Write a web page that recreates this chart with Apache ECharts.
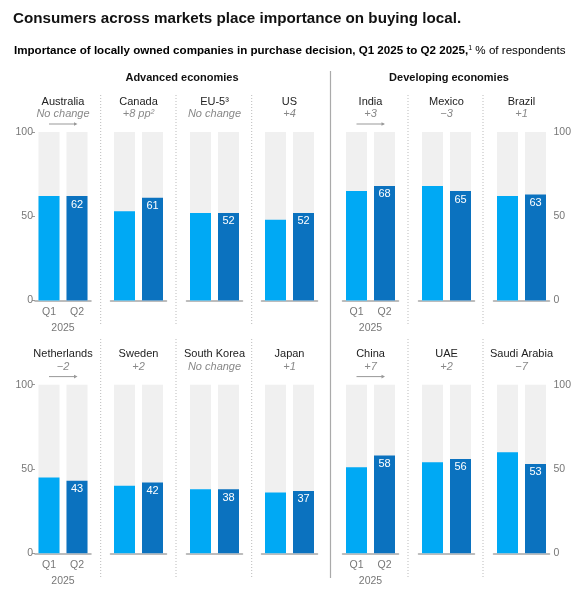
<!DOCTYPE html>
<html>
<head>
<meta charset="utf-8">
<script src="https://cdn.jsdelivr.net/npm/echarts@6/dist/echarts.min.js"></script>
<style>
html,body{margin:0;padding:0;background:#fff;}
#chart{width:582px;height:590px;}
</style>
</head>
<body>
<div id="chart"></div>
<script>
// ---- Data ----
const countries = ['Australia','Canada','EU-5\u00B3','US','India','Mexico','Brazil',
                   'Netherlands','Sweden','South Korea','Japan','China','UAE','Saudi Arabia'];
const changeLabels = ['No change','+8 pp\u00B2','No change','+4','+3','\u22123','+1',
                      '\u22122','+2','No change','+1','+7','+2','\u22127'];
const q1Values = [62,53,52,48,65,68,62,45,40,38,36,51,54,60];
const q2Values = [62,61,52,52,68,65,63,43,42,38,37,58,56,53];
const periods = ['Q1','Q2'];
const yearLabel = '2025';
const groupLabels = ['Advanced economies','Developing economies'];

// ---- Layout ----
const FONT = '"Liberation Sans", Arial, sans-serif';
const colQ1 = '#00a9f4', colQ2 = '#0b72bf';
const colCenters = [63,138.5,214.5,289.5,370.5,446.5,521.5];
const rowTop = [132,384.7];
const plotH = 168.6;
const halfW = 28;

const grids=[], xAxes=[], yAxes=[], series=[], graphics=[];
countries.forEach((name,i)=>{
  const row = i<7?0:1, col = i%7;
  const cx = colCenters[col];
  const firstPanel = (col===0 || col===4);
  const leftAxis = col===0, rightAxis = col===6;
  grids.push({left:cx-halfW, top:rowTop[row], width:halfW*2, height:plotH});
  xAxes.push({
    type:'category', gridIndex:i, data:periods,
    axisLine:{show:true,lineStyle:{color:'#a6a6a6',width:1.5}},
    axisTick:{show:false},
    axisLabel:{show:firstPanel,color:'#777',fontSize:10.5,fontFamily:FONT,margin:6},
    name: firstPanel?yearLabel:'', nameLocation:'middle', nameGap:22,
    nameTextStyle:{color:'#777',fontSize:10.5,fontFamily:FONT}
  });
  yAxes.push({
    type:'value', gridIndex:i, min:0, max:100, interval:50,
    position: rightAxis?'right':'left',
    splitLine:{show:false}, axisLine:{show:false},
    axisTick:{show:leftAxis,length:3,lineStyle:{color:'#999'}},
    axisLabel:{show:leftAxis||rightAxis,color:'#777',fontSize:10.5,fontFamily:FONT,margin:rightAxis?4:2}
  });
  series.push({
    type:'bar', xAxisIndex:i, yAxisIndex:i, barWidth:21,
    showBackground:true, backgroundStyle:{color:'#f0f0f0'},
    data:[
      {value:q1Values[i], itemStyle:{color:colQ1}, label:{show:false}},
      {value:q2Values[i], itemStyle:{color:colQ2},
       label:{show:true,position:'insideTop',distance:3,color:'#fff',fontSize:11,fontFamily:FONT}}
    ]
  });
  const nameY = row===0?101.7:354.3;
  graphics.push({type:'text',x:cx,y:nameY,style:{text:name,textAlign:'center',textVerticalAlign:'middle',
    fill:'#222',font:'11px '+FONT}});
  graphics.push({type:'text',x:cx,y:nameY+12.3,style:{text:changeLabels[i],textAlign:'center',textVerticalAlign:'middle',
    fill:'#888',font:'italic 11px '+FONT}});
  if(firstPanel){
    const ay = nameY+22.3;
    graphics.push({type:'line',shape:{x1:cx-14,y1:ay,x2:cx+13,y2:ay},style:{stroke:'#999',lineWidth:1}});
    graphics.push({type:'polygon',shape:{points:[[cx+14.5,ay],[cx+11,ay-1.8],[cx+11,ay+1.8]]},style:{fill:'#999'}});
  }
});

// separators
[100.7,176,251.7,408,483].forEach(x=>{
  [[95,325],[339,578]].forEach(([y1,y2])=>{
    graphics.push({type:'line',shape:{x1:x,y1:y1,x2:x,y2:y2},style:{stroke:'#bbb',lineWidth:1,lineDash:[1,2]}});
  });
});
graphics.push({type:'line',shape:{x1:330.5,y1:71,x2:330.5,y2:578},style:{stroke:'#aaa',lineWidth:1.2}});

// headings
graphics.push({type:'text',x:13,y:19,style:{text:'Consumers across markets place importance on buying local.',
  textVerticalAlign:'middle',fill:'#111',font:'bold 15.2px '+FONT}});
graphics.push({type:'text',x:14,y:51,style:{
  text:'{b|Importance of locally owned companies in purchase decision, Q1 2025 to Q2 2025,}{s|1}{r| % of respondents}',
  textVerticalAlign:'middle',
  rich:{b:{fontWeight:'bold',fontSize:11.6,fontFamily:FONT,color:'#111'},
        s:{fontSize:7,fontFamily:FONT,color:'#111',verticalAlign:'top',padding:[0,0,6,0]},
        r:{fontSize:11.6,fontFamily:FONT,color:'#111'}}}});
graphics.push({type:'text',x:182,y:77.7,style:{text:groupLabels[0],textAlign:'center',textVerticalAlign:'middle',fill:'#111',font:'bold 11px '+FONT}});
graphics.push({type:'text',x:449,y:77.7,style:{text:groupLabels[1],textAlign:'center',textVerticalAlign:'middle',fill:'#111',font:'bold 11px '+FONT}});

const chart = echarts.init(document.getElementById('chart'));
chart.setOption({
  animation:false,
  grid:grids, xAxis:xAxes, yAxis:yAxes, series:series,
  graphic:graphics
});
</script>
</body>
</html>
